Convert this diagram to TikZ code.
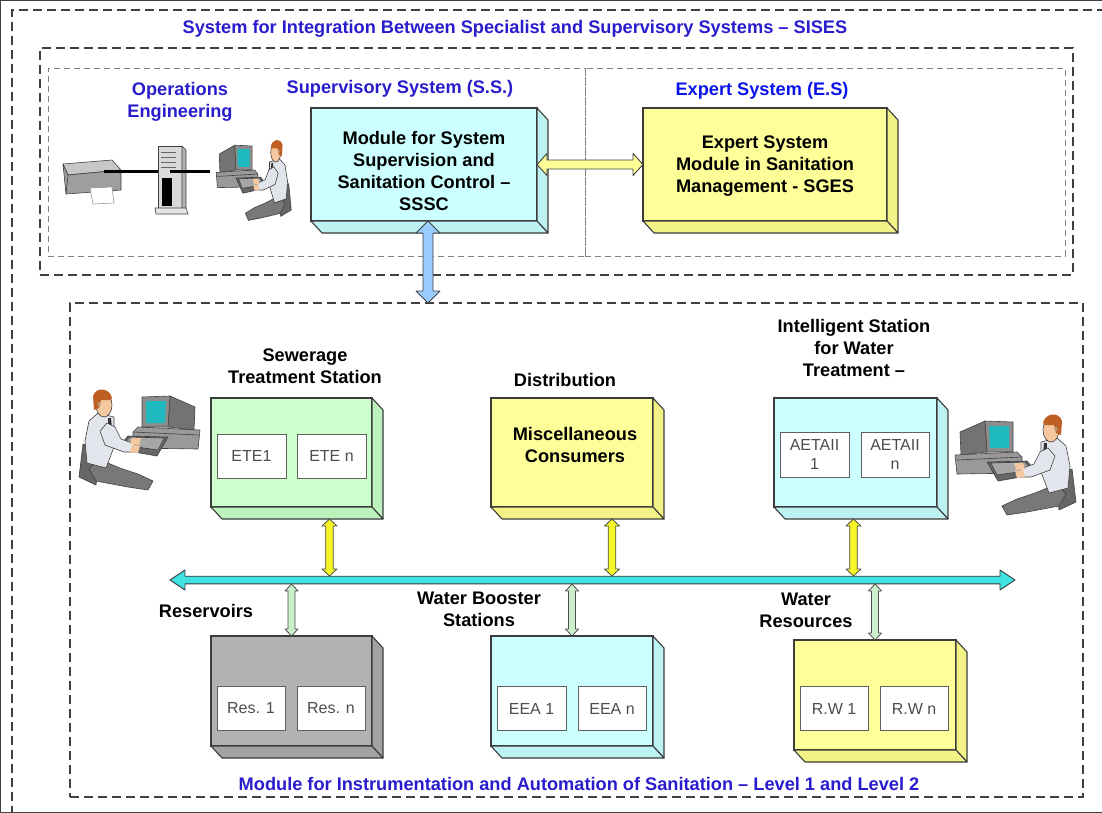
\documentclass[tikz,border=0pt]{standalone}
\usepackage{fontspec}
\setmainfont{Liberation Sans}
\usetikzlibrary{calc}

\definecolor{frameline}{RGB}{64,64,64}
\definecolor{lightframe}{RGB}{128,128,128}
\definecolor{titleblue}{RGB}{40,28,205}
\definecolor{esblue}{RGB}{10,20,235}
\definecolor{cyanface}{RGB}{204,255,255}
\definecolor{cyanside}{RGB}{188,242,242}
\definecolor{yellowface}{RGB}{255,255,153}
\definecolor{yellowside}{RGB}{242,242,135}
\definecolor{greenface}{RGB}{204,255,204}
\definecolor{greenside}{RGB}{188,242,188}
\definecolor{grayface}{RGB}{178,178,178}
\definecolor{grayside}{RGB}{162,162,162}
\definecolor{edgecol}{RGB}{60,60,60}
\definecolor{busfill}{RGB}{64,226,226}
\definecolor{linkyellow}{RGB}{245,245,40}
\definecolor{linkgreen}{RGB}{204,240,204}
\definecolor{linkblue}{RGB}{153,204,255}
\definecolor{screencol}{RGB}{30,185,190}
\definecolor{shirtcol}{RGB}{226,230,236}
\definecolor{skincol}{RGB}{245,200,160}
\definecolor{haircol}{RGB}{190,95,35}
\definecolor{pantscol}{RGB}{120,120,120}

\newcommand\hdfont{\fontsize{18.2}{22}\selectfont\bfseries}
\newcommand\unitfont{\fontsize{16}{19}\selectfont}

% extruded faces of a 3D box: right side and bottom, depth (11,12)
\newcommand\cubesides[2]{%
  \draw[cubeedge, fill=#2] (#1.north east) -- ++(11,12) -- ([shift={(11,12)}]#1.south east) -- (#1.south east) -- cycle;
  \draw[cubeedge, fill=#2] (#1.south west) -- ++(11,12) -- ([shift={(11,12)}]#1.south east) -- (#1.south east) -- cycle;}

% fat vertical double arrow: style, upper end, lower end, shaft half width, head half width, head length
\newcommand\vfat[6]{%
  \draw[#1] let \p1=#2, \p2=#3 in
    (\x1,\y1) -- (\x1+#5,\y1-#6) -- (\x1+#4,\y1-#6) -- (\x1+#4,\y2+#6) -- (\x1+#5,\y2+#6)
    -- (\x1,\y2) -- (\x1-#5,\y2+#6) -- (\x1-#4,\y2+#6) -- (\x1-#4,\y1-#6) -- (\x1-#5,\y1-#6) -- cycle;}

% fat horizontal double arrow: style, left end, right end, shaft half width, head half width, head length
\newcommand\hfat[6]{%
  \draw[#1] let \p1=#2, \p2=#3 in
    (\x1,\y1) -- (\x1+#6,\y1+#5) -- (\x1+#6,\y1+#4) -- (\x2-#6,\y1+#4) -- (\x2-#6,\y1+#5)
    -- (\x2,\y1) -- (\x2-#6,\y1-#5) -- (\x2-#6,\y1-#4) -- (\x1+#6,\y1-#4) -- (\x1+#6,\y1-#5) -- cycle;}

\tikzset{
  dframe/.style={draw=frameline, line width=1.6pt, dash pattern=on 9pt off 5pt, inner sep=0pt, outer sep=0pt},
  lframe/.style={draw=lightframe, line width=1pt, dash pattern=on 6pt off 4pt, inner sep=0pt, outer sep=0pt},
  cubebox/.style={draw=edgecol, line width=1.1pt, inner sep=0pt, outer sep=0pt},
  cubeedge/.style={draw=edgecol, line width=1.1pt, line join=round},
  subunit/.style={draw=gray!75!black, fill=white, line width=1pt, minimum width=69pt, minimum height=44pt,
    inner sep=0pt, outer sep=0pt, align=center, font=\unitfont, text=black!70},
  hdg/.style={align=center, font=\hdfont, text=black},
  bluehdg/.style={align=center, font=\hdfont, text=titleblue},
  ylink/.style={draw=gray!60!black, fill=linkyellow, line width=.8pt, line join=round},
  hylink/.style={draw=gray!50!black, fill=yellowface, line width=.9pt, line join=round},
  glink/.style={draw=gray!60!black, fill=linkgreen, line width=.8pt, line join=round},
  blink/.style={draw=gray!50!black, fill=linkblue, line width=.9pt, line join=round},
  buslink/.style={draw=gray!45!black, fill=busfill, line width=.9pt, line join=round},
  clip/.style={draw=black!75, line width=.6pt, line join=round},
  operator/.pic={
    % monitor casing
    \draw[clip, fill=black!55] (15,30) -- (40,19) -- (42,50) -- (16,53) -- cycle;
    \draw[clip, fill=black!45] (40,19) -- (68,20) -- (68,50) -- (42,50) -- cycle;
    \fill[screencol] (44,24) -- (64,24) -- (64,46) -- (45,46) -- cycle;
    % desk unit
    \draw[clip, fill=black!40] (10,53) -- (72,50) -- (77,55) -- (77,71) -- (12,72) -- cycle;
    \draw[clip] (12,58) -- (77,55);
    % keyboard tray
    \draw[clip, fill=black!60] (42,60) -- (82,59) -- (93,72) -- (53,79) -- cycle;
    \draw[clip, fill=black!35] (46,61) -- (80,60) -- (87,68) -- (52,73) -- cycle;
    % chair back
    \draw[clip, fill=black!60] (110,74) -- (127,67) -- (131,100) -- (114,108) -- cycle;
    % legs
    \draw[clip, fill=pantscol] (112,82) -- (121,92) -- (114,104) -- (82,110) -- (62,113) -- (57,104) -- (72,97) -- (90,91) -- cycle;
    % torso
    \draw[clip, fill=shirtcol] (96,40) -- (112,36) -- (121,44) -- (125,64) -- (123,86) -- (104,91) -- (96,70) -- cycle;
    % tie
    \fill[black!80] (99,41) -- (102,41) -- (101,66) -- (97,62) -- cycle;
    % arm
    \draw[clip, fill=shirtcol] (103,46) -- (110,54) -- (105,68) -- (86,75) -- (77,75) -- (75,67) -- (89,62) -- (95,50) -- cycle;
    % hands
    \fill[skincol] (69,61) -- (78,61) -- (80,67) -- (71,68) -- cycle;
    \fill[skincol] (70,69) -- (78,68) -- (80,75) -- (72,76) -- cycle;
    % head and hair
    \draw[clip, fill=skincol] (106,28) ellipse (8 and 12);
    \fill[haircol] (98,21) .. controls (100,11) and (114,9) .. (117,19) -- (116,33) -- (111,31) -- (109,23) -- (100,23) -- cycle;
    \fill[skincol!75!black] (111,27) ellipse (1.5 and 2.5);
  }
}

\begin{document}
\begin{tikzpicture}[x=1pt,y=-1pt]
\useasboundingbox (0,0) rectangle (1102,812);
\clip (0,0) rectangle (1102,812);

% ---------- frames ----------
\node[dframe, minimum width=1130pt, minimum height=850pt] (sisesouter) at (577,435) {};
\node[dframe, minimum width=1033pt, minimum height=227pt] (sises) at (556.5,161.5) {};
\node[lframe, minimum width=537pt, minimum height=188pt] (ssarea) at (316.5,162) {};
\node[lframe, minimum width=480pt, minimum height=188pt] (esarea) at (825,162) {};
\node[dframe, minimum width=1013pt, minimum height=494pt] (iam) at (576.5,550) {};

% ---------- titles ----------
\node[bluehdg] (tsises) at (515,29) {System for Integration Between Specialist and Supervisory Systems – SISES};
\node[bluehdg] (tops) at (180,102) {Operations\\Engineering};
\node[bluehdg] (tss) at (400,89) {Supervisory System (S.S.)};
\node[bluehdg, text=esblue] (tes) at (762,91) {Expert System (E.S)};
\node[bluehdg] (tiam) at (579,784) {Module for Instrumentation and Automation of Sanitation – Level 1 and Level 2};

% ---------- supervisory workstation ----------
% printer
\draw[clip, fill=black!22] (63,164) -- (112,160) -- (121,170) -- (68,175) -- cycle;
\draw[clip, fill=black!38] (63,164) -- (68,175) -- (121,170) -- (121,190) -- (66,194) -- cycle;
\draw[clip] (68,175) -- (66,194);
\draw[draw=black!40, fill=white, line width=.6pt] (90,188) -- (112,187) -- (114,203) -- (93,204) -- cycle;
\coordinate (prnport) at (104,171);
% server tower
\draw[clip, fill=black!15] (158,146) -- (182,146) -- (182,208) -- (158,208) -- cycle;
\draw[clip, fill=black!30] (182,146) -- (186,150) -- (186,210) -- (182,208) -- cycle;
\draw[clip, fill=black!10] (155,208) -- (186,208) -- (188,214) -- (156,214) -- cycle;
\foreach \yy in {152,157,162,167}{\draw[black!60, line width=1pt] (161,\yy) -- (176,\yy);}
\fill[black] (162,178) -- (172,178) -- (172,206) -- (162,206) -- cycle;
\coordinate (srvin) at (158,171);
\coordinate (srvout) at (170,171);
\coordinate (wsport) at (210,171);
\draw[black, line width=3pt] (prnport) -- (srvin);
\draw[black, line width=3pt] (srvout) -- (wsport);
\pic[xscale=0.62, yscale=0.8] (optop) at (210,130) {operator};

% ---------- SSSC and SGES ----------
\node[cubebox, fill=cyanface, minimum width=226pt, minimum height=113pt] (sssc) at (424,164.5) {};
\cubesides{sssc}{cyanside}
\node[hdg] (ssscText) at ([shift={(0,6.5)}]sssc.center) {Module for System\\Supervision and\\Sanitation Control –\\SSSC};
\node[cubebox, fill=yellowface, minimum width=244pt, minimum height=113pt] (sges) at (765,164.5) {};
\cubesides{sges}{yellowside}
\node[hdg] (sgesText) at ([shift={(0,1.5)}]sges.center) {Expert System\\Module in Sanitation\\Management - SGES};
\hfat{hylink}{(sssc.east)}{(sges.west)}{4.5pt}{11pt}{10pt}

% ---------- level 1 / level 2 stations ----------
\pic[xscale=-1] (opleft) at (210,377) {operator};
\pic (opright) at (945,402) {operator};

\node[hdg] (hete) at (305,366) {Sewerage\\Treatment Station};
\node[hdg] (hdist) at (565,380) {Distribution};
\node[hdg] (haeta) at (854,348) {Intelligent Station\\for Water\\Treatment –};
\node[hdg] (hres) at (206,611) {Reservoirs};
\node[hdg] (heea) at (479,609) {Water Booster\\Stations};
\node[hdg] (hrw) at (806,610) {Water\\Resources};

\node[cubebox, fill=greenface, minimum width=161pt, minimum height=109pt] (ete) at (291.5,452.5) {};
\cubesides{ete}{greenside}
\node[subunit] (ete1) at (251.5,456) {ETE1};
\node[subunit] (eten) at (331.5,456) {ETE n};

\node[cubebox, fill=yellowface, minimum width=162pt, minimum height=109pt] (dist) at (572,452.5) {};
\cubesides{dist}{yellowside}
\node[hdg] (distText) at ([shift={(3,-7.5)}]dist.center) {Miscellaneous\\Consumers};

\node[cubebox, fill=cyanface, minimum width=163pt, minimum height=109pt] (aeta) at (855.5,452.5) {};
\cubesides{aeta}{cyanside}
\node[subunit, minimum height=45pt] (aeta1) at (814.5,454.5) {AETAII\\1};
\node[subunit, minimum width=68pt, minimum height=45pt] (aetan) at (895,454.5) {AETAII\\n};

\node[cubebox, fill=grayface, minimum width=161pt, minimum height=110pt] (res) at (291.5,691) {};
\cubesides{res}{grayside}
\node[subunit, minimum width=68pt] (res1) at (251,708.5) {Res. 1};
\node[subunit, minimum width=68pt] (resn) at (331,708.5) {Res. n};

\node[cubebox, fill=cyanface, minimum width=162pt, minimum height=110pt] (eea) at (572,691) {};
\cubesides{eea}{cyanside}
\node[subunit] (eea1) at (531.5,708.5) {EEA 1};
\node[subunit, minimum width=68pt] (eean) at (612,708.5) {EEA n};

\node[cubebox, fill=yellowface, minimum width=162pt, minimum height=110pt] (rw) at (875,695) {};
\cubesides{rw}{yellowside}
\node[subunit, minimum width=68pt] (rw1) at (834,708.5) {R.W 1};
\node[subunit, minimum width=68pt] (rwn) at (914,708.5) {R.W n};

% ---------- field bus ----------
\coordinate (busL) at (170,580);
\coordinate (busR) at (1015,580);
\coordinate (busT) at (170,576);
\coordinate (busB) at (170,584);
\hfat{buslink}{(busL)}{(busR)}{3.8pt}{10pt}{15pt}

\vfat{ylink}{([shift={(38,12)}]ete.south)}{(busT)}{3.8pt}{7.5pt}{7pt}
\vfat{ylink}{([shift={(40,12)}]dist.south)}{(busT)}{3.8pt}{7.5pt}{7pt}
\vfat{ylink}{([shift={(-2,12)}]aeta.south)}{(busT)}{3.8pt}{7.5pt}{7pt}
\vfat{glink}{(res.north |- busB)}{(res.north)}{3.5pt}{6.5pt}{7pt}
\vfat{glink}{(eea.north |- busB)}{(eea.north)}{3.5pt}{6.5pt}{7pt}
\vfat{glink}{(rw.north |- busB)}{(rw.north)}{3.5pt}{6.5pt}{7pt}

% ---------- link between supervisory level and field level ----------
\vfat{blink}{([xshift=4pt]sssc.south)}{(iam.north)}{5pt}{12pt}{12pt}
\end{tikzpicture}
\end{document}
